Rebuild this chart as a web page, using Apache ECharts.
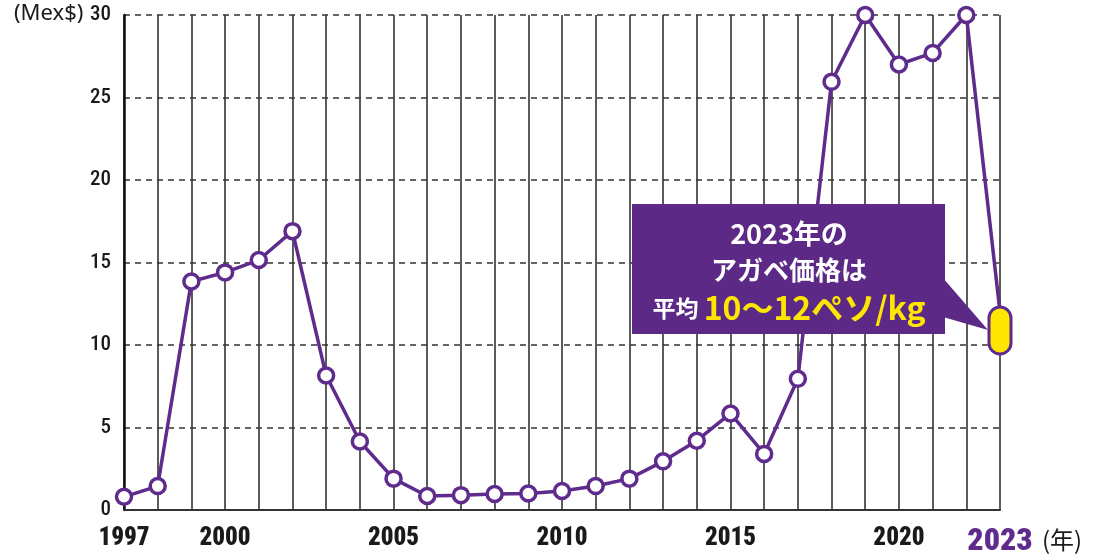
<!DOCTYPE html>
<html><head><meta charset="utf-8">
<script src="https://cdn.jsdelivr.net/npm/echarts@6/dist/echarts.min.js"></script>
<style>html,body{margin:0;padding:0;background:#fff}#c{width:1095px;height:558px}</style>
</head><body><div id="c"></div>
<script>
const years = [1997,1998,1999,2000,2001,2002,2003,2004,2005,2006,2007,2008,2009,2010,2011,2012,2013,2014,2015,2016,2017,2018,2019,2020,2021,2022,2023];
const prices = [0.8,1.45,13.85,14.4,15.15,16.9,8.15,4.15,1.9,0.85,0.9,0.97,1.0,1.15,1.45,1.9,2.95,4.2,5.85,3.4,7.95,25.95,30,27,27.7,30,12];
const range2023 = [10, 12];
const yTicks = [0,5,10,15,20,25,30];
const xLabelYears = [1997,2000,2005,2010,2015,2020];
const highlightYear = 2023;

const PURPLE = '#5f2b8c';
const YELLOW = '#ffe600';
const NARROW = '"Roboto Condensed","DejaVu Sans Condensed",sans-serif';
const JP = '"Noto Sans CJK JP","Noto Sans",sans-serif';

const lineData = years.map((y,i)=> y===highlightYear ? {value:[y,prices[i]], symbol:'none'} : [y,prices[i]]);

const chart = echarts.init(document.getElementById('c'), null, {renderer:'canvas'});
chart.setOption({
  backgroundColor:'#fff',
  animation:false,
  grid:{left:124,right:95,top:15,bottom:48},
  xAxis:{
    type:'value', min:1997, max:2023, interval:1,
    axisLine:{show:true, lineStyle:{color:'#333',width:2}},
    axisTick:{show:false},
    splitLine:{show:true, lineStyle:{color:'#333',width:1.6,type:'solid'}},
    axisLabel:{
      margin:16,
      formatter:v=> v===highlightYear ? '{h|'+v+'}' : (xLabelYears.includes(v) ? '{n|'+v+'}' : ''),
      rich:{
        n:{fontFamily:NARROW,fontWeight:900,fontSize:25,color:'#1a1a1a'},
        h:{fontFamily:NARROW,fontWeight:900,fontSize:32,color:PURPLE}
      }
    }
  },
  yAxis:{
    type:'value', min:0, max:30, interval:5,
    axisLine:{show:true, onZero:false, lineStyle:{color:'#111',width:2.5}},
    axisTick:{show:false},
    axisLabel:{margin:13, fontFamily:NARROW, fontWeight:500, fontSize:21, color:'#1a1a1a',
      formatter:v=> yTicks.includes(v)? String(v):''},
    splitLine:{show:true, lineStyle:{color:'#333',width:1.5,type:[6,5]}}
  },
  series:[
    {
      type:'line', data:lineData, clip:false, z:3,
      symbol:'circle', symbolSize:15,
      lineStyle:{color:PURPLE,width:3.5},
      itemStyle:{color:'#fff',borderColor:PURPLE,borderWidth:3.5}
    },
    {
      type:'custom', z:5, clip:false,
      data:[[highlightYear, range2023[0], range2023[1]]],
      renderItem:(params,api)=>{
        const top = api.coord([api.value(0), api.value(2)]);
        const bot = api.coord([api.value(0), api.value(1)]);
        const w = 22;
        const y0 = top[1]-5, h = (bot[1]-top[1])+14;
        return {type:'rect', shape:{x:top[0]-w/2, y:y0, width:w, height:h, r:w/2},
          style:{fill:YELLOW, stroke:PURPLE, lineWidth:3}};
      }
    }
  ],
  graphic:[
    {type:'text', left:14, top:3, style:{text:'(Mex$)', font:'22px "Noto Sans",sans-serif', fill:'#1a1a1a'}},
    {type:'text', x:1062, y:540, style:{text:'(年)', font:'24px '+JP, fill:'#1a1a1a', textAlign:'center', textVerticalAlign:'middle'}},
    {type:'polygon', z:10, shape:{points:[[943,278],[943,317],[988,330]]}, style:{fill:'#5c2a86'}},
    {type:'rect', z:10, shape:{x:632,y:204,width:313,height:130}, style:{fill:'#5c2a86'}},
    {type:'text', z:11, x:789, y:234, style:{text:'2023年の', font:'bold 27px '+JP, fill:'#fff', textAlign:'center', textVerticalAlign:'middle'}},
    {type:'text', z:11, x:789, y:270, style:{text:'アガベ価格は', font:'bold 26px '+JP, fill:'#fff', textAlign:'center', textVerticalAlign:'middle'}},
    {type:'text', z:11, x:789, y:308, style:{
      text:'{a|平均 }{b|10〜12ペソ/kg}', textAlign:'center', textVerticalAlign:'middle',
      rich:{
        a:{fontFamily:JP,fontWeight:'bold',fontSize:23,fill:'#fff',color:'#fff'},
        b:{fontFamily:JP,fontWeight:'bold',fontSize:32,fill:YELLOW,color:YELLOW}
      }}}
  ]
});
</script></body></html>
